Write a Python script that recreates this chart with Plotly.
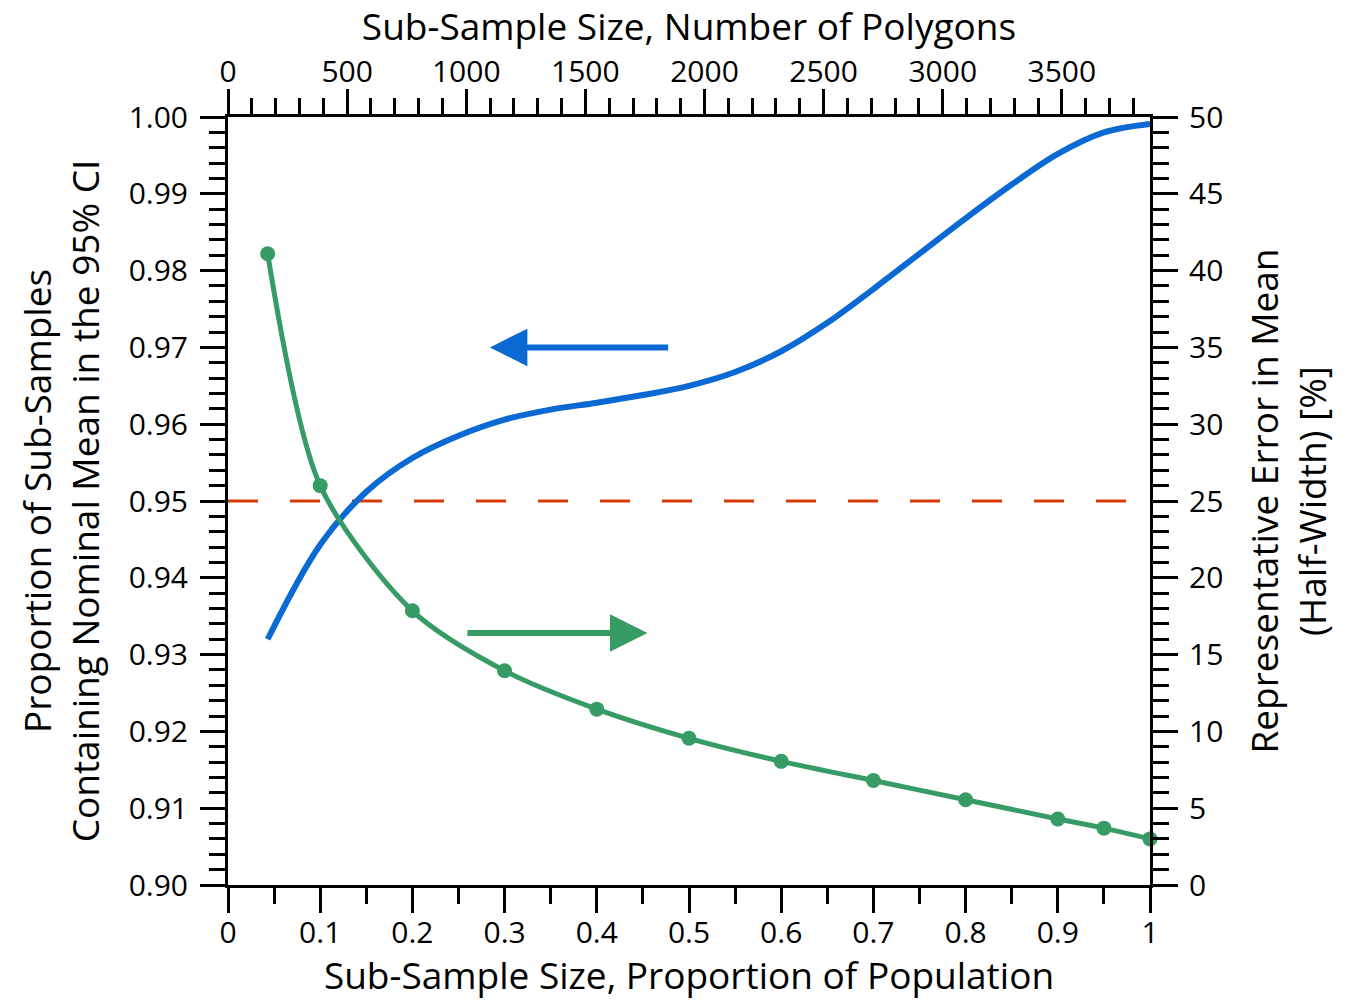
import plotly.graph_objects as go

# ---- data ----
prop_blue = [0.043, 0.1, 0.15, 0.2, 0.25, 0.3, 0.35, 0.4, 0.45, 0.5,
             0.55, 0.6, 0.65, 0.7, 0.75, 0.8, 0.85, 0.9, 0.95, 1.0]
coverage_blue = [0.9320, 0.9443, 0.9512, 0.9556, 0.9585, 0.9606, 0.9619, 0.9628, 0.9638,
                 0.9650, 0.9668, 0.9695, 0.9732, 0.9776, 0.9822, 0.9868, 0.9912, 0.9952,
                 0.9980, 0.9991]

prop_green = [0.043, 0.1, 0.2, 0.3, 0.4, 0.5, 0.6, 0.7, 0.8, 0.9, 0.95, 1.0]
error_green = [41.1, 26.0, 17.85, 13.95, 11.45, 9.55, 8.05, 6.8, 5.55, 4.3, 3.7, 3.0]

nominal_level = 0.95
total_polygons = 3870

bottom_ticks = [0, 0.1, 0.2, 0.3, 0.4, 0.5, 0.6, 0.7, 0.8, 0.9, 1.0]
bottom_labels = ["0", "0.1", "0.2", "0.3", "0.4", "0.5", "0.6", "0.7", "0.8", "0.9", "1"]
top_ticks = [0, 500, 1000, 1500, 2000, 2500, 3000, 3500]
left_ticks = [0.90, 0.91, 0.92, 0.93, 0.94, 0.95, 0.96, 0.97, 0.98, 0.99, 1.00]
right_ticks = [0, 5, 10, 15, 20, 25, 30, 35, 40, 45, 50]

# arrow annotations (data coordinates)
blue_arrow = dict(tail_x=0.479, tip_x=0.284, y=0.970)
green_arrow = dict(tail_x=0.258, tip_x=0.455, y=16.4)

BLUE = "#0A69D3"
GREEN = "#379B66"
RED = "#D33A06"
FONT = "Open Sans"

fig = go.Figure()

fig.add_trace(go.Scatter(
    x=[0, 1], y=[nominal_level, nominal_level], mode="lines",
    line=dict(color=RED, width=3, dash="30px,32px"),
    xaxis="x", yaxis="y", showlegend=False, hoverinfo="skip"))

fig.add_trace(go.Scatter(
    x=prop_blue, y=coverage_blue, mode="lines",
    line=dict(color=BLUE, width=6, shape="spline", smoothing=1.0),
    xaxis="x", yaxis="y", showlegend=False, cliponaxis=False))

fig.add_trace(go.Scatter(
    x=prop_green, y=error_green, mode="lines+markers",
    line=dict(color=GREEN, width=5, shape="spline", smoothing=0.8),
    marker=dict(color=GREEN, size=15),
    xaxis="x", yaxis="y2", showlegend=False, cliponaxis=False))

# helper trace so the top axis is drawn
fig.add_trace(go.Scatter(
    x=[0, total_polygons], y=[left_ticks[0], left_ticks[0]], mode="none",
    xaxis="x2", yaxis="y", showlegend=False, hoverinfo="skip"))

tickfont = dict(family=FONT, size=30, color="black")
titlefont = dict(family=FONT, size=37, color="black")

common = dict(showline=True, linewidth=3, linecolor="black", showgrid=False,
              zeroline=False, ticks="outside", ticklen=25, tickwidth=3,
              tickcolor="black", tickfont=tickfont)

fig.update_layout(
    width=1349, height=1000,
    margin=dict(l=228, r=199, t=117, b=115, autoexpand=False),
    paper_bgcolor="white", plot_bgcolor="white",
    font=dict(family=FONT, color="black"),
    xaxis=dict(range=[0, 1], tickvals=bottom_ticks, ticktext=bottom_labels,
               ticklabelstandoff=-6,
               minor=dict(dtick=0.05, tick0=0, ticks="outside", ticklen=16,
                          tickwidth=3, tickcolor="black"),
               title=dict(text="Sub-Sample Size, Proportion of Population",
                          font=titlefont, standoff=10),
               **common),
    xaxis2=dict(range=[0, total_polygons], overlaying="x", side="top",
                tickvals=top_ticks, ticklabelstandoff=-5,
                minor=dict(dtick=100, tick0=0, ticks="outside", ticklen=16,
                           tickwidth=3, tickcolor="black"),
                title=dict(text="Sub-Sample Size, Number of Polygons",
                           font=titlefont, standoff=4),
                **common),
    yaxis=dict(range=[0.90, 1.00], tickvals=left_ticks, tickformat=".2f",
               ticklabelstandoff=6,
               minor=dict(dtick=0.002, tick0=0.9, ticks="outside", ticklen=16,
                          tickwidth=3, tickcolor="black"),
               title=dict(text="Proportion of Sub-Samples<br>Containing Nominal Mean in the 95% CI",
                          font=titlefont, standoff=18),
               **common),
    yaxis2=dict(range=[0, 50], overlaying="y", side="right", tickvals=right_ticks,
                ticklabelstandoff=5,
                minor=dict(dtick=1, tick0=0, ticks="outside", ticklen=16,
                           tickwidth=3, tickcolor="black"),
                title=dict(text="Representative Error in Mean<br>(Half-Width) [%]",
                           font=titlefont, standoff=30),
                **common),
)

fig.add_annotation(x=blue_arrow["tip_x"], y=blue_arrow["y"], xref="x", yref="y",
                   ax=blue_arrow["tail_x"], ay=blue_arrow["y"], axref="x", ayref="y",
                   text="", showarrow=True, arrowhead=2, arrowsize=1.25,
                   arrowwidth=6, arrowcolor=BLUE)
fig.add_annotation(x=green_arrow["tip_x"], y=green_arrow["y"], xref="x", yref="y2",
                   ax=green_arrow["tail_x"], ay=green_arrow["y"], axref="x", ayref="y2",
                   text="", showarrow=True, arrowhead=2, arrowsize=1.25,
                   arrowwidth=6, arrowcolor=GREEN)

fig.write_html("out.html")
